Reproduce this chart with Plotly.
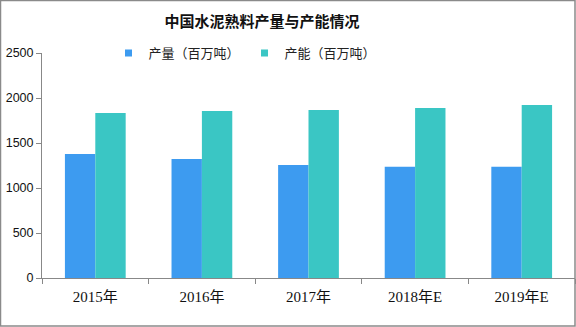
import plotly.graph_objects as go

categories = ["2015年", "2016年", "2017年", "2018年E", "2019年E"]
output_vals = [1378, 1322, 1255, 1235, 1235]
capacity_vals = [1833, 1855, 1867, 1889, 1922]
series_names = ["产量（百万吨）", "产能（百万吨）"]
colors = ["#3D9BF0", "#3AC6C4"]
y_ticks = [0, 500, 1000, 1500, 2000, 2500]

W, H = 576, 327
L, R, T, B = 42, 1, 53, 49
pw, ph = W - L - R, H - T - B

def px_x(p):
    return (p - L) / pw

def px_y(p):
    return (H - B - p) / ph

fig = go.Figure()
for vals, name, col in zip([output_vals, capacity_vals], series_names, colors):
    fig.add_trace(go.Bar(x=categories, y=vals, name=name, showlegend=False,
                         marker=dict(color=col, line=dict(width=0))))
for name, col in zip(series_names, colors):
    fig.add_trace(go.Scatter(x=[None], y=[None], mode="markers", name=name,
                             marker=dict(symbol="square", size=7, color=col)))

fig.update_layout(
    width=W, height=H,
    margin=dict(l=L, r=R, t=T, b=B, autoexpand=False),
    paper_bgcolor="white", plot_bgcolor="white",
    barmode="group", bargap=0.43, bargroupgap=0,
    title=dict(text="<b>中国水泥熟料产量与产能情况</b>", x=0.455, xanchor="center",
               y=1 - 22 / H, yanchor="middle", yref="container",
               font=dict(family="Noto Sans CJK SC", size=15, color="#111111")),
    legend=dict(orientation="h", x=245 / W, xanchor="center", xref="container",
                y=1 - 53 / H, yanchor="middle", yref="container",
                font=dict(family="Noto Sans CJK SC", size=13, color="#222222"),
                itemwidth=30, bgcolor="rgba(0,0,0,0)"),
    showlegend=True,
    xaxis=dict(type="category", tickson="boundaries", ticks="outside", ticklen=5,
               tickcolor="#888888", showline=True, linecolor="#888888", linewidth=1,
               showgrid=False, range=[-0.5, 4.5], ticklabelstandoff=5,
               tickfont=dict(family="Liberation Serif, Noto Sans CJK SC", size=15, color="#111111")),
    yaxis=dict(range=[0, 2500], tickvals=y_ticks, ticks="outside", ticklen=5,
               tickcolor="#888888", showline=True, linecolor="#888888", linewidth=1,
               showgrid=False, zeroline=False,
               tickfont=dict(family="Liberation Sans, Arial", size=12.5, color="#111111")),
    shapes=[dict(type="rect", xref="paper", yref="paper",
                 x0=px_x(0.5), x1=px_x(575), y0=px_y(326), y1=px_y(0.5),
                 line=dict(color="#8a8a8a", width=1.5), fillcolor="rgba(0,0,0,0)", layer="above")],
)

fig.write_html("out.html")
